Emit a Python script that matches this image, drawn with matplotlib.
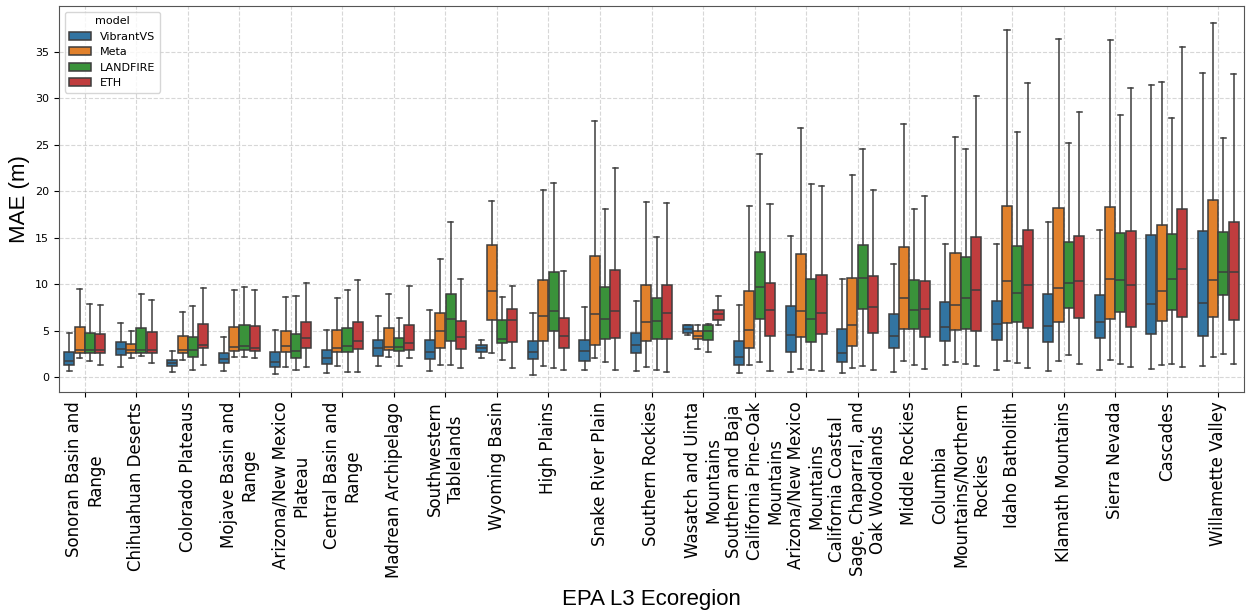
import matplotlib
matplotlib.use("Agg")
import matplotlib.pyplot as plt
import numpy as np
from matplotlib.patches import Patch

categories = [
    "Sonoran Basin and\nRange", "Chihuahuan Deserts", "Colorado Plateaus",
    "Mojave Basin and\nRange", "Arizona/New Mexico\nPlateau", "Central Basin and\nRange",
    "Madrean Archipelago", "Southwestern\nTablelands", "Wyoming Basin", "High Plains",
    "Snake River Plain", "Southern Rockies", "Wasatch and Uinta\nMountains",
    "Southern and Baja\nCalifornia Pine-Oak\nMountains", "Arizona/New Mexico\nMountains",
    "California Coastal\nSage, Chaparral, and\nOak Woodlands", "Middle Rockies",
    "Columbia\nMountains/Northern\nRockies", "Idaho Batholith", "Klamath Mountains",
    "Sierra Nevada", "Cascades", "Willamette Valley",
]
models = ["VibrantVS", "Meta", "LANDFIRE", "ETH"]

# VibrantVS
vib_lo  = [0.65, 1.04, 0.58, 0.65, 0.36, 0.43, 1.19, 0.65, 2.01, 0.22, 0.76, 0.65, 4.50, 0.47, 0.50, 0.43, 0.58, 1.33, 0.79, 0.68, 0.76, 0.90, 1.19]
vib_q1  = [1.26, 2.37, 1.15, 1.47, 1.04, 1.44, 2.27, 1.91, 2.70, 1.94, 1.69, 2.55, 4.71, 1.29, 2.66, 1.65, 3.17, 3.92, 3.99, 3.81, 4.17, 4.64, 4.39]
vib_med = [1.76, 2.99, 1.47, 1.94, 1.62, 2.01, 3.09, 2.66, 3.13, 2.73, 2.84, 3.42, 5.22, 2.12, 4.57, 2.59, 4.42, 5.36, 5.68, 5.50, 5.94, 7.84, 7.99]
vib_q3  = [2.73, 3.81, 1.83, 2.59, 2.66, 2.88, 4.03, 3.96, 3.42, 3.92, 3.99, 4.71, 5.58, 3.85, 7.66, 5.14, 6.76, 8.09, 8.13, 8.96, 8.81, 15.29, 15.72]
vib_hi  = [4.78, 5.76, 2.84, 4.35, 5.04, 5.07, 6.62, 7.16, 3.99, 6.87, 7.55, 8.13, 5.65, 7.73, 15.18, 10.54, 12.16, 14.32, 14.32, 16.69, 15.83, 31.40, 32.73]

# Meta
meta_lo  = [2.09, 2.05, 1.80, 2.19, 1.12, 1.19, 2.12, 1.26, 2.63, 1.19, 2.09, 1.04, 2.99, 1.26, 0.83, 1.01, 1.73, 1.62, 1.73, 1.76, 1.83, 1.26, 2.12]
meta_q1  = [2.63, 2.63, 2.63, 2.81, 2.70, 2.70, 2.88, 3.09, 6.15, 3.88, 3.49, 3.92, 4.10, 3.13, 4.32, 3.35, 5.22, 5.07, 5.86, 5.97, 6.29, 6.08, 6.47]
meta_med = [2.88, 2.88, 2.95, 3.24, 3.31, 3.17, 3.20, 4.93, 9.28, 6.55, 6.76, 5.90, 4.46, 5.11, 7.12, 5.58, 8.49, 7.70, 10.29, 9.57, 10.54, 9.28, 10.43]
meta_q3  = [5.36, 3.56, 4.42, 5.40, 5.00, 5.04, 5.29, 6.87, 14.24, 10.40, 13.02, 9.89, 4.93, 9.24, 13.27, 10.68, 13.99, 13.35, 18.42, 18.17, 18.27, 16.33, 19.10]
meta_hi  = [9.46, 4.96, 6.98, 9.32, 8.56, 8.49, 8.99, 12.66, 18.92, 20.14, 27.52, 18.88, 5.58, 18.38, 26.80, 21.76, 27.23, 25.83, 37.34, 36.44, 36.26, 31.80, 38.09]

# LANDFIRE
lf_lo  = [1.73, 2.30, 0.76, 2.19, 0.76, 0.54, 1.22, 1.29, 1.87, 0.94, 1.58, 0.72, 2.70, 1.62, 0.72, 1.15, 1.29, 1.40, 1.47, 2.41, 1.44, 1.40, 2.48]
lf_q1  = [2.63, 2.63, 2.19, 2.88, 2.01, 2.70, 2.81, 3.88, 3.71, 4.93, 4.14, 4.14, 3.99, 6.29, 3.74, 7.30, 5.22, 5.14, 5.94, 7.48, 7.05, 7.19, 8.81]
lf_med = [2.95, 2.91, 2.95, 3.35, 2.84, 3.31, 3.20, 6.19, 4.14, 7.09, 6.22, 6.01, 4.93, 9.68, 6.22, 10.61, 7.19, 8.49, 9.03, 10.07, 10.47, 10.54, 11.26]
lf_q3  = [4.71, 5.25, 4.35, 5.65, 4.68, 5.32, 4.21, 8.96, 6.15, 11.26, 9.68, 8.49, 5.58, 13.49, 10.54, 14.21, 10.40, 12.91, 14.10, 14.53, 15.50, 15.43, 15.58]
lf_hi  = [7.81, 8.96, 7.66, 9.68, 8.71, 9.32, 6.40, 16.65, 8.56, 20.90, 18.06, 15.11, 5.68, 23.99, 20.79, 24.57, 18.13, 24.53, 26.40, 25.18, 28.24, 27.88, 25.72]

# ETH
eth_lo  = [1.26, 1.55, 1.26, 2.09, 1.04, 0.54, 2.01, 1.01, 1.01, 0.79, 0.79, 0.50, 5.61, 0.68, 0.68, 0.76, 0.83, 1.15, 0.94, 1.40, 1.12, 1.08, 1.44]
eth_q1  = [2.63, 2.63, 3.13, 2.81, 3.13, 2.99, 2.88, 3.06, 3.74, 3.13, 4.17, 4.14, 6.12, 4.39, 4.60, 4.71, 4.35, 4.93, 5.25, 6.33, 5.43, 6.44, 6.12]
eth_med = [2.88, 2.88, 3.49, 3.17, 4.21, 3.88, 3.63, 4.28, 6.12, 4.42, 7.09, 6.87, 6.73, 7.19, 6.94, 7.52, 7.27, 9.35, 9.89, 10.32, 9.93, 11.62, 11.26]
eth_q3  = [4.64, 4.82, 5.68, 5.47, 5.94, 5.94, 5.65, 6.01, 7.30, 6.40, 11.55, 9.93, 7.23, 10.07, 10.94, 10.86, 10.32, 15.07, 15.83, 15.22, 15.72, 18.06, 16.73]
eth_hi  = [7.73, 8.24, 9.57, 9.42, 10.14, 10.40, 9.82, 10.50, 9.78, 11.37, 22.48, 18.71, 8.74, 18.63, 20.58, 20.14, 19.46, 30.25, 31.69, 28.53, 31.15, 35.58, 32.59]

series = [
    (vib_lo, vib_q1, vib_med, vib_q3, vib_hi),
    (meta_lo, meta_q1, meta_med, meta_q3, meta_hi),
    (lf_lo, lf_q1, lf_med, lf_q3, lf_hi),
    (eth_lo, eth_q1, eth_med, eth_q3, eth_hi),
]
colors = ["#3274a1", "#e1812c", "#3a923a", "#c03d3e"]
line_col = "#3d3d3d"
lw = 1.1

fig = plt.figure(figsize=(12.47, 6.15), dpi=100)
ax = fig.add_axes([59/1247, 1-392/615, 1185/1247, 386/615])
ax.set_axisbelow(True)
ax.grid(True, linestyle="--", color="#b0b0b0", alpha=0.5, linewidth=0.8)

n = len(categories)
base = np.arange(n)
bw = 0.8 / len(models)
for i, (lo, q1, med, q3, hi) in enumerate(series):
    stats = [dict(whislo=lo[j], q1=q1[j], med=med[j], q3=q3[j], whishi=hi[j])
             for j in range(n)]
    pos = base + (i - 1.5) * bw
    ax.bxp(stats, positions=pos, widths=bw * 0.98, patch_artist=True,
           showfliers=False, manage_ticks=False,
           boxprops=dict(facecolor=colors[i], edgecolor=line_col, linewidth=lw),
           whiskerprops=dict(color=line_col, linewidth=lw),
           capprops=dict(color=line_col, linewidth=lw),
           medianprops=dict(color=line_col, linewidth=lw))

for s in ax.spines.values():
    s.set_color("#555555")
ax.set_xlim(-0.5, n - 0.5)
ax.set_ylim(-1.62, 39.96)
ax.set_xticks(base)
ax.set_xticklabels(categories, rotation=90, fontsize=12)
ax.tick_params(axis="y", labelsize=8)
ax.set_xlabel("EPA L3 Ecoregion", fontsize=16, family="Liberation Sans", labelpad=8)
ax.set_ylabel("MAE (m)", fontsize=16, family="Liberation Sans", labelpad=4)

handles = [Patch(facecolor=c, edgecolor=line_col, linewidth=lw, label=m)
           for c, m in zip(colors, models)]
ax.legend(handles=handles, title="model", loc="upper left", fontsize=8,
          title_fontsize=8)

fig.savefig("out.png", dpi=100)
